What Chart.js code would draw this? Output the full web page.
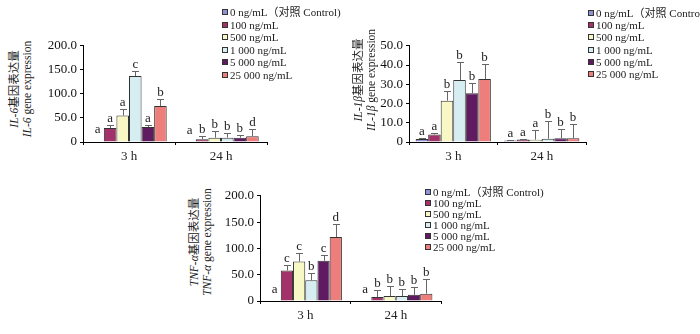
<!DOCTYPE html>
<html>
<head>
<meta charset="utf-8">
<script src="https://cdn.jsdelivr.net/npm/chart.js@4.4.1/dist/chart.umd.min.js"></script>
<style>
  body { margin: 0; background: #fff; }
  #page { position: relative; width: 700px; height: 334px; overflow: hidden; font-family: "Liberation Serif", "Noto Sans CJK SC", serif; color: #222; }
  canvas { position: absolute; }
  .legend { position: absolute; font-size: 11px; line-height: 12.4px; white-space: nowrap; }
  .legend .sw { display: inline-block; width: 4px; height: 4px; border: 1px solid #333; margin-right: 2px; vertical-align: 1px; }
  .ytitle { position: absolute; font-size: 11.5px; line-height: 13px; white-space: nowrap; text-align: center; transform: translate(-50%, -50%) rotate(-90deg); }
</style>
</head>
<body>
<div id="page">
  <canvas id="il6"></canvas>
  <canvas id="il1b"></canvas>
  <canvas id="tnfa"></canvas>
</div>
<script>
// Groups and doses
const groups = ["3 h", "24 h"];
const doses = ["0 ng/mL（对照 Control)", "100 ng/mL", "500 ng/mL", "1 000 ng/mL", "5 000 ng/mL", "25 000 ng/mL"];

// IL-6
const il6Mean3h = [1.2, 29, 55, 137, 31, 75];
const il6Err3h = [0, 7, 13, 11, 4, 15];
const il6Mean24h = [1.0, 5.5, 9, 9, 9, 12];
const il6Err24h = [0, 6, 13, 9, 6, 14];
const il6Letters3h = ["a", "a", "a", "c", "a", "b"];
const il6Letters24h = ["a", "b", "b", "b", "b", "d"];
const il6Ticks = [0, 50, 100, 150, 200];

// IL-1beta
const il1bMean3h = [1.6, 3.9, 21.5, 32.2, 25.3, 32.7];
const il1bErr3h = [0.4, 0.8, 4.8, 9.3, 5.5, 7.6];
const il1bMean24h = [0.8, 1.3, 1.2, 1.7, 2.0, 2.0];
const il1bErr24h = [0.3, 0.5, 5.0, 9.3, 5.0, 7.2];
const il1bLetters3h = ["a", "a", "b", "b", "b", "b"];
const il1bLetters24h = ["a", "a", "a", "b", "b", "b"];
const il1bTicks = [0, 10, 20, 30, 40, 50];

// TNF-alpha
const tnfMean3h = [0, 58, 75, 39.5, 76.5, 121.6];
const tnfErr3h = [0, 11, 17, 14, 11, 25];
const tnfMean24h = [0, 7.4, 9.3, 9.3, 11.7, 14];
const tnfErr24h = [0, 13.6, 20, 13.5, 15.4, 28];
const tnfLetters3h = ["a", "c", "c", "b", "c", "d"];
const tnfLetters24h = ["a", "b", "b", "b", "b", "b"];
const tnfTicks = [0, 50, 100, 150, 200];

const fills = ["#8e92d6", "#a3326a", "#f8f8c6", "#d6eef2", "#5f1a62", "#ee7e7c"];
const serif = "'Liberation Serif', 'Times New Roman', serif";

// error bars + significance letters
const errorBars = {
  id: "errorBars",
  afterDatasetsDraw(chart) {
    const ctx = chart.ctx;
    const y = chart.scales.y;
    const extra = chart.options.plugins.errorBars;
    ctx.save();
    chart.data.datasets.forEach((ds, i) => {
      chart.getDatasetMeta(i).data.forEach((bar, j) => {
        const mean = ds.data[j];
        const err = extra.errs[i][j];
        const top = y.getPixelForValue(mean + err);
        if (err > 0) {
          ctx.strokeStyle = "#666";
          ctx.lineWidth = 1;
          ctx.beginPath();
          ctx.moveTo(Math.round(bar.x) + 0.5, bar.y);
          ctx.lineTo(Math.round(bar.x) + 0.5, Math.round(top) + 0.5);
          ctx.moveTo(Math.round(bar.x) - 3, Math.round(top) + 0.5);
          ctx.lineTo(Math.round(bar.x) + 4, Math.round(top) + 0.5);
          ctx.stroke();
        }
        ctx.fillStyle = "#222";
        ctx.font = "13px " + serif;
        ctx.textAlign = "center";
        ctx.textBaseline = "alphabetic";
        ctx.fillText(extra.letters[i][j], bar.x, top - (err > 0 ? 3 : 8));
      });
    });
    ctx.restore();
  }
};

function makeChart(id, box, ticks, means, errs, letters, catPct) {
  const canvas = document.getElementById(id);
  const left = box.axisX - 42;
  const top = box.top - 8;
  canvas.width = box.right - left + 4;
  canvas.height = box.bottom - top + 28;
  canvas.style.left = left + "px";
  canvas.style.top = top + "px";

  const datasets = doses.map((d, i) => ({
    label: d,
    data: means.map(m => m[i]),
    backgroundColor: fills[i],
    borderColor: "#333",
    borderWidth: 1,
    borderSkipped: "bottom"
  }));

  new Chart(canvas, {
    type: "bar",
    data: { labels: groups, datasets },
    plugins: [errorBars],
    options: {
      responsive: false,
      animation: false,
      devicePixelRatio: 1,
      layout: { padding: { top: 8, right: 4, left: 0, bottom: 0 } },
      datasets: { bar: { categoryPercentage: catPct, barPercentage: 1 } },
      plugins: {
        legend: { display: false },
        tooltip: { enabled: false },
        errorBars: {
          errs: doses.map((d, i) => errs.map(e => e[i])),
          letters: doses.map((d, i) => letters.map(l => l[i]))
        }
      },
      scales: {
        x: {
          afterFit: s => { s.height = 28; },
          border: { color: "#000", width: 1 },
          grid: { drawOnChartArea: false, tickLength: 3, color: "#000" },
          ticks: { color: "#222", padding: 4, font: { family: serif, size: 13 } }
        },
        y: {
          min: ticks[0],
          max: ticks[ticks.length - 1],
          afterFit: s => { s.width = 42; },
          afterBuildTicks: s => { s.ticks = ticks.map(v => ({ value: v })); },
          border: { color: "#000", width: 1 },
          grid: { drawOnChartArea: false, tickLength: 3, color: "#000" },
          ticks: {
            color: "#111",
            padding: 3,
            font: { family: serif, size: 13 },
            callback: v => v === 0 ? "0" : v.toFixed(1)
          }
        }
      }
    }
  });
}

function addLegend(x, y, lineH) {
  const div = document.createElement("div");
  div.className = "legend";
  div.style.left = x + "px";
  div.style.top = y + "px";
  div.style.lineHeight = lineH + "px";
  div.innerHTML = doses.map((d, i) =>
    `<div><span class="sw" style="background:${fills[i]}"></span>${d}</div>`).join("");
  document.getElementById("page").appendChild(div);
}

function addTitle(cx, cy, lines) {
  const div = document.createElement("div");
  div.className = "ytitle";
  div.style.left = cx + "px";
  div.style.top = cy + "px";
  div.innerHTML = lines.join("<br>");
  document.getElementById("page").appendChild(div);
}

makeChart("il6", { axisX: 83, top: 43, right: 267, bottom: 142 }, il6Ticks,
  [il6Mean3h, il6Mean24h], [il6Err3h, il6Err24h], [il6Letters3h, il6Letters24h], 0.82);
makeChart("il1b", { axisX: 409, top: 43, right: 586, bottom: 142 }, il1bTicks,
  [il1bMean3h, il1bMean24h], [il1bErr3h, il1bErr24h], [il1bLetters3h, il1bLetters24h], 0.85);
makeChart("tnfa", { axisX: 260, top: 193, right: 441, bottom: 301 }, tnfTicks,
  [tnfMean3h, tnfMean24h], [tnfErr3h, tnfErr24h], [tnfLetters3h, tnfLetters24h], 0.81);

addLegend(222, 6, 12.5);
addLegend(588, 7, 12.2);
addLegend(425, 187, 11);

addTitle(21, 89, ["<i>IL-6</i>基因表达量", "<i>IL-6</i> gene expression"]);
addTitle(365, 80, ["<i>IL-1β</i>基因表达量", "<i>IL-1β</i> gene expression"]);
addTitle(201, 242, ["<i>TNF-α</i>基因表达量", "<i>TNF-α</i> gene expression"]);
</script>
</body>
</html>
